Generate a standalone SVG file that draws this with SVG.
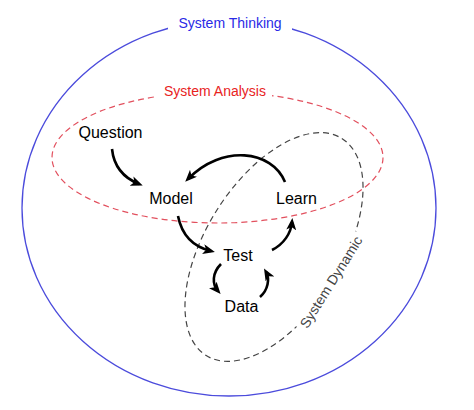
<svg xmlns="http://www.w3.org/2000/svg" width="474" height="410" viewBox="0 0 474 410">
<style>
.lbl{font-family:"Liberation Sans",Arial,sans-serif;font-size:14px;text-anchor:middle}
.node{font-family:"Liberation Sans",Arial,sans-serif;font-size:16px;text-anchor:middle;fill:#000}
.arr{fill:none;stroke:#000;stroke-width:2.6;stroke-linecap:butt}
.gap{fill:#fff}
</style>
<defs>
<marker id="ah" viewBox="0 0 12 10" refX="8" refY="5" markerWidth="12" markerHeight="10" markerUnits="userSpaceOnUse" orient="auto">
<path d="M0,0 L12,5 L0,10 L3,5 z" fill="#000"/>
</marker>
</defs>
<rect width="474" height="410" fill="#fff"/>
<g id="system-thinking">
<ellipse cx="229" cy="208" rx="207" ry="188" fill="none" stroke="#4b4bdc" stroke-width="1.3"/>
<rect class="gap" x="168" y="12" width="124" height="20"/>
<text class="lbl" x="230" y="28" fill="#2a2ae6">System Thinking</text>
</g>
<g id="system-analysis">
<ellipse cx="217.5" cy="157.5" rx="165.5" ry="65.5" fill="none" stroke="#e2505e" stroke-width="1.2" stroke-dasharray="6,4"/>
<rect class="gap" x="157" y="83" width="115" height="17"/>
<text class="lbl" x="215" y="96" fill="#e8231e">System Analysis</text>
</g>
<g id="system-dynamic">
<ellipse cx="274" cy="247" rx="128" ry="68" transform="rotate(-58 274 247)" fill="none" stroke="#444" stroke-width="1.2" stroke-dasharray="6,4"/>
<g transform="translate(331,282) rotate(-58)">
<rect class="gap" x="-56" y="-8" width="112" height="16"/>
<text class="lbl" x="0" y="5" fill="#444">System Dynamic</text>
</g>
</g>
<g id="connectors">
<path class="arr" d="M112,149 C114,168 124,178 139,184" marker-end="url(#ah)"/>
<path class="arr" d="M285,182 C272,150 222,144 188,179" marker-end="url(#ah)"/>
<path class="arr" d="M178,216 C182,236 194,247 211,251" marker-end="url(#ah)"/>
<path class="arr" d="M272,250 C284,244 291,233 292,222" marker-end="url(#ah)"/>
<path class="arr" d="M221,264 C212,273 212,284 218,291" marker-end="url(#ah)"/>
<path class="arr" d="M260,297 C268,290 270,279 266,272" marker-end="url(#ah)"/>
</g>
<g id="question"><text class="node" x="110.5" y="138">Question</text></g>
<g id="model"><text class="node" x="171" y="204">Model</text></g>
<g id="learn"><text class="node" x="296.5" y="204">Learn</text></g>
<g id="test"><text class="node" x="238" y="261">Test</text></g>
<g id="data"><text class="node" x="241.5" y="312">Data</text></g>
</svg>
